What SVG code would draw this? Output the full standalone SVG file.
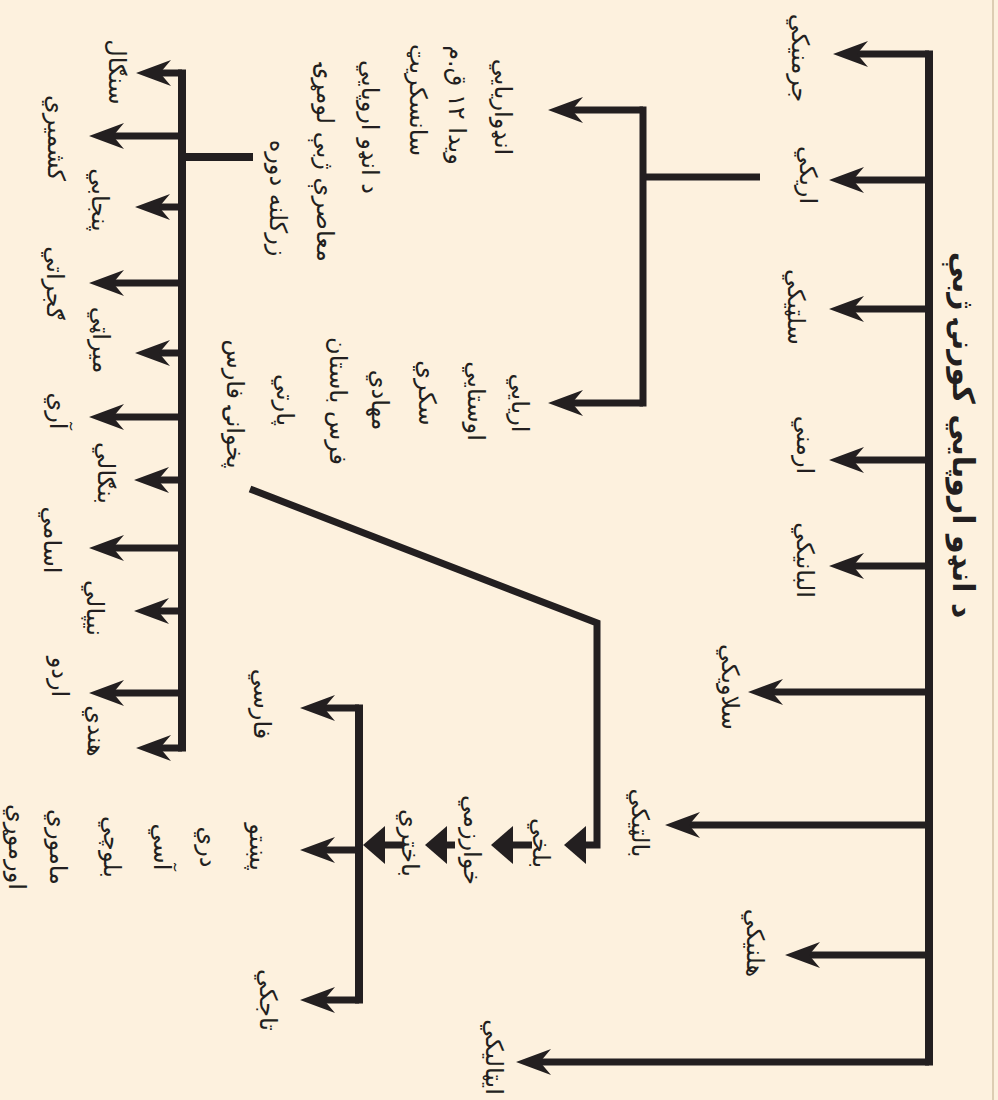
<svg xmlns="http://www.w3.org/2000/svg" width="998" height="1100" viewBox="0 0 998 1100">
<defs>
<style>
.bg{fill:#fdf1de}
.ln{stroke:#231f20;stroke-width:7;fill:none;stroke-linejoin:miter}
.sp{stroke:#231f20;stroke-width:8;fill:none}
.t{font-family:"DejaVu Sans",sans-serif;font-size:24px;fill:#231f20;text-anchor:middle;dominant-baseline:central}
.title{font-family:"DejaVu Sans",sans-serif;font-size:30px;font-weight:bold;fill:#231f20;text-anchor:middle;dominant-baseline:central}
</style>
<marker id="ah" viewBox="-16 -14 38 28" markerWidth="38" markerHeight="28" refX="0" refY="0" orient="auto" markerUnits="userSpaceOnUse">
<path d="M21,0 L-14,-13 L-3,0 L-14,13 Z" fill="#231f20"/>
</marker>
<marker id="tri" viewBox="-2 -20 24 40" markerWidth="24" markerHeight="40" refX="0" refY="0" orient="auto" markerUnits="userSpaceOnUse">
<path d="M-1,-19 L21,0 L-1,19 Z" fill="#231f20"/>
</marker>
</defs>
<rect class="bg" x="0" y="0" width="998" height="1100"/>
<line x1="993" y1="0" x2="993" y2="1100" stroke="#d2c1a4" stroke-width="1.5"/>

<g id="connectors">
<line class="sp" x1="929" y1="50.5" x2="929" y2="1065.5"/>
<line class="ln" x1="929" y1="54" x2="854" y2="54" marker-end="url(#ah)"/>
<line class="ln" x1="929" y1="180" x2="850" y2="180" marker-end="url(#ah)"/>
<line class="ln" x1="929" y1="309" x2="850" y2="309" marker-end="url(#ah)"/>
<line class="ln" x1="929" y1="460" x2="850" y2="460" marker-end="url(#ah)"/>
<line class="ln" x1="929" y1="566" x2="850" y2="566" marker-end="url(#ah)"/>
<line class="ln" x1="929" y1="692" x2="769" y2="692" marker-end="url(#ah)"/>
<line class="ln" x1="929" y1="825" x2="686" y2="825" marker-end="url(#ah)"/>
<line class="ln" x1="929" y1="955" x2="806" y2="955" marker-end="url(#ah)"/>
<line class="ln" x1="929" y1="1062" x2="537" y2="1062" marker-end="url(#ah)"/>
<line class="ln" x1="645" y1="177" x2="760" y2="177"/>
<line class="ln" x1="643" y1="106.5" x2="643" y2="406.5"/>
<line class="ln" x1="643" y1="110" x2="569" y2="110" marker-end="url(#ah)"/>
<line class="ln" x1="643" y1="403" x2="569" y2="403" marker-end="url(#ah)"/>
<line class="sp" x1="185" y1="157" x2="253" y2="157"/>
<line class="sp" x1="182" y1="69.5" x2="182" y2="751.5"/>
<line class="ln" x1="182" y1="73" x2="157" y2="73" marker-end="url(#ah)"/>
<line class="ln" x1="182" y1="136" x2="110" y2="136" marker-end="url(#ah)"/>
<line class="ln" x1="182" y1="207" x2="156" y2="207" marker-end="url(#ah)"/>
<line class="ln" x1="182" y1="283" x2="110" y2="283" marker-end="url(#ah)"/>
<line class="ln" x1="182" y1="353" x2="156" y2="353" marker-end="url(#ah)"/>
<line class="ln" x1="182" y1="417" x2="110" y2="417" marker-end="url(#ah)"/>
<line class="ln" x1="182" y1="480" x2="155" y2="480" marker-end="url(#ah)"/>
<line class="ln" x1="182" y1="548" x2="110" y2="548" marker-end="url(#ah)"/>
<line class="ln" x1="182" y1="611" x2="155" y2="611" marker-end="url(#ah)"/>
<line class="ln" x1="182" y1="693" x2="110" y2="693" marker-end="url(#ah)"/>
<line class="ln" x1="182" y1="748" x2="157" y2="748" marker-end="url(#ah)"/>
<path class="ln" d="M250,489 L597,623 L597,845 L585,845" marker-end="url(#tri)"/>
<line class="ln" x1="532" y1="845" x2="512" y2="845" marker-end="url(#tri)"/>
<line class="ln" x1="455" y1="845" x2="446" y2="845" marker-end="url(#tri)"/>
<line class="ln" x1="403" y1="845" x2="384" y2="845" marker-end="url(#tri)"/>
<line class="sp" x1="359" y1="704.5" x2="359" y2="1003.5"/>
<line class="ln" x1="359" y1="708" x2="321" y2="708" marker-end="url(#ah)"/>
<line class="ln" x1="359" y1="850" x2="321" y2="850" marker-end="url(#ah)"/>
<line class="ln" x1="359" y1="1000" x2="321" y2="1000" marker-end="url(#ah)"/>
</g>

<g id="title"><text class="title" transform="translate(963,435) rotate(90)">د انډو اروپايي کورنۍ ژبې</text></g>

<g id="n-germanic"><text class="t" transform="translate(800,58) rotate(90)">جرمنيکي</text></g>
<g id="n-aryan"><text class="t" transform="translate(808,175) rotate(90)">اريکي</text></g>
<g id="n-celtic"><text class="t" transform="translate(796,307) rotate(90)">سلټيکي</text></g>
<g id="n-armenian"><text class="t" transform="translate(805,445) rotate(90)">ارمني</text></g>
<g id="n-albanian"><text class="t" transform="translate(805,560) rotate(90)">البانيکي</text></g>
<g id="n-slavic"><text class="t" transform="translate(730,687) rotate(90)">سلاويکي</text></g>
<g id="n-baltic"><text class="t" transform="translate(640,823) rotate(90)">بالټيکي</text></g>
<g id="n-hellenic"><text class="t" transform="translate(755,943) rotate(90)">هلنيکي</text></g>
<g id="n-italic"><text class="t" transform="translate(494,1057) rotate(90)">ايټاليکي</text></g>

<g id="n-indoaryan">
<text class="t" transform="translate(503,107) rotate(90)">انډواريايي</text>
<text class="t" transform="translate(457,105) rotate(90)">ويدا ۱۲ ق.م</text>
<text class="t" transform="translate(418,100) rotate(90)">سانسکريټ</text>
<text class="t" transform="translate(370,127) rotate(90)">د انډو اروپايي</text>
<text class="t" transform="translate(325,163) rotate(90)">معاصرې ژبې لومړۍ</text>
<text class="t" transform="translate(278,198) rotate(90)">زرکلنه دوره</text>
</g>

<g id="n-iranian">
<text class="t" transform="translate(520,403) rotate(90)">اريايي</text>
<text class="t" transform="translate(476,401) rotate(90)">اوستايي</text>
<text class="t" transform="translate(427,393) rotate(90)">سکري</text>
<text class="t" transform="translate(380,400) rotate(90)">مهادي</text>
<text class="t" transform="translate(338,401) rotate(90)">فرس باستان</text>
<text class="t" transform="translate(285,400) rotate(90)">پارتي</text>
<text class="t" transform="translate(235,404) rotate(90)">پخوانۍ فارس</text>
</g>

<g id="n-balkhi"><text class="t" transform="translate(541,843) rotate(90)">بلخي</text></g>
<g id="n-khwarazmi"><text class="t" transform="translate(472,840) rotate(90)">خوارزمي</text></g>
<g id="n-bactrian"><text class="t" transform="translate(410,843) rotate(90)">باختري</text></g>

<g id="n-farsi"><text class="t" transform="translate(262,704) rotate(90)">فارسي</text></g>
<g id="n-pashto">
<text class="t" transform="translate(258,847) rotate(90)">پښتو</text>
<text class="t" transform="translate(208,847) rotate(90)">دري</text>
<text class="t" transform="translate(162,847) rotate(90)">آسي</text>
<text class="t" transform="translate(112,847) rotate(90)">بلوچي</text>
<text class="t" transform="translate(58,847) rotate(90)">ماموري</text>
<text class="t" transform="translate(17,847) rotate(90)">اورموړي</text>
</g>
<g id="n-tajik"><text class="t" transform="translate(268,1000) rotate(90)">تاجکي</text></g>

<g id="n-sinhala"><text class="t" transform="translate(117,72) rotate(90)">سنګال</text></g>
<g id="n-kashmiri"><text class="t" transform="translate(56,138) rotate(90)">کشميري</text></g>
<g id="n-punjabi"><text class="t" transform="translate(100,200) rotate(90)">پنجابي</text></g>
<g id="n-gujarati"><text class="t" transform="translate(55,283) rotate(90)">ګجراتي</text></g>
<g id="n-marathi"><text class="t" transform="translate(101,340) rotate(90)">ميراټي</text></g>
<g id="n-ari"><text class="t" transform="translate(58,411) rotate(90)">آري</text></g>
<g id="n-bengali"><text class="t" transform="translate(106,473) rotate(90)">بنګالي</text></g>
<g id="n-assamese"><text class="t" transform="translate(52,540) rotate(90)">اسامي</text></g>
<g id="n-nepali"><text class="t" transform="translate(95,608) rotate(90)">نيپالي</text></g>
<g id="n-urdu"><text class="t" transform="translate(60,677) rotate(90)">اردو</text></g>
<g id="n-hindi"><text class="t" transform="translate(96,731) rotate(90)">هندي</text></g>
</svg>
